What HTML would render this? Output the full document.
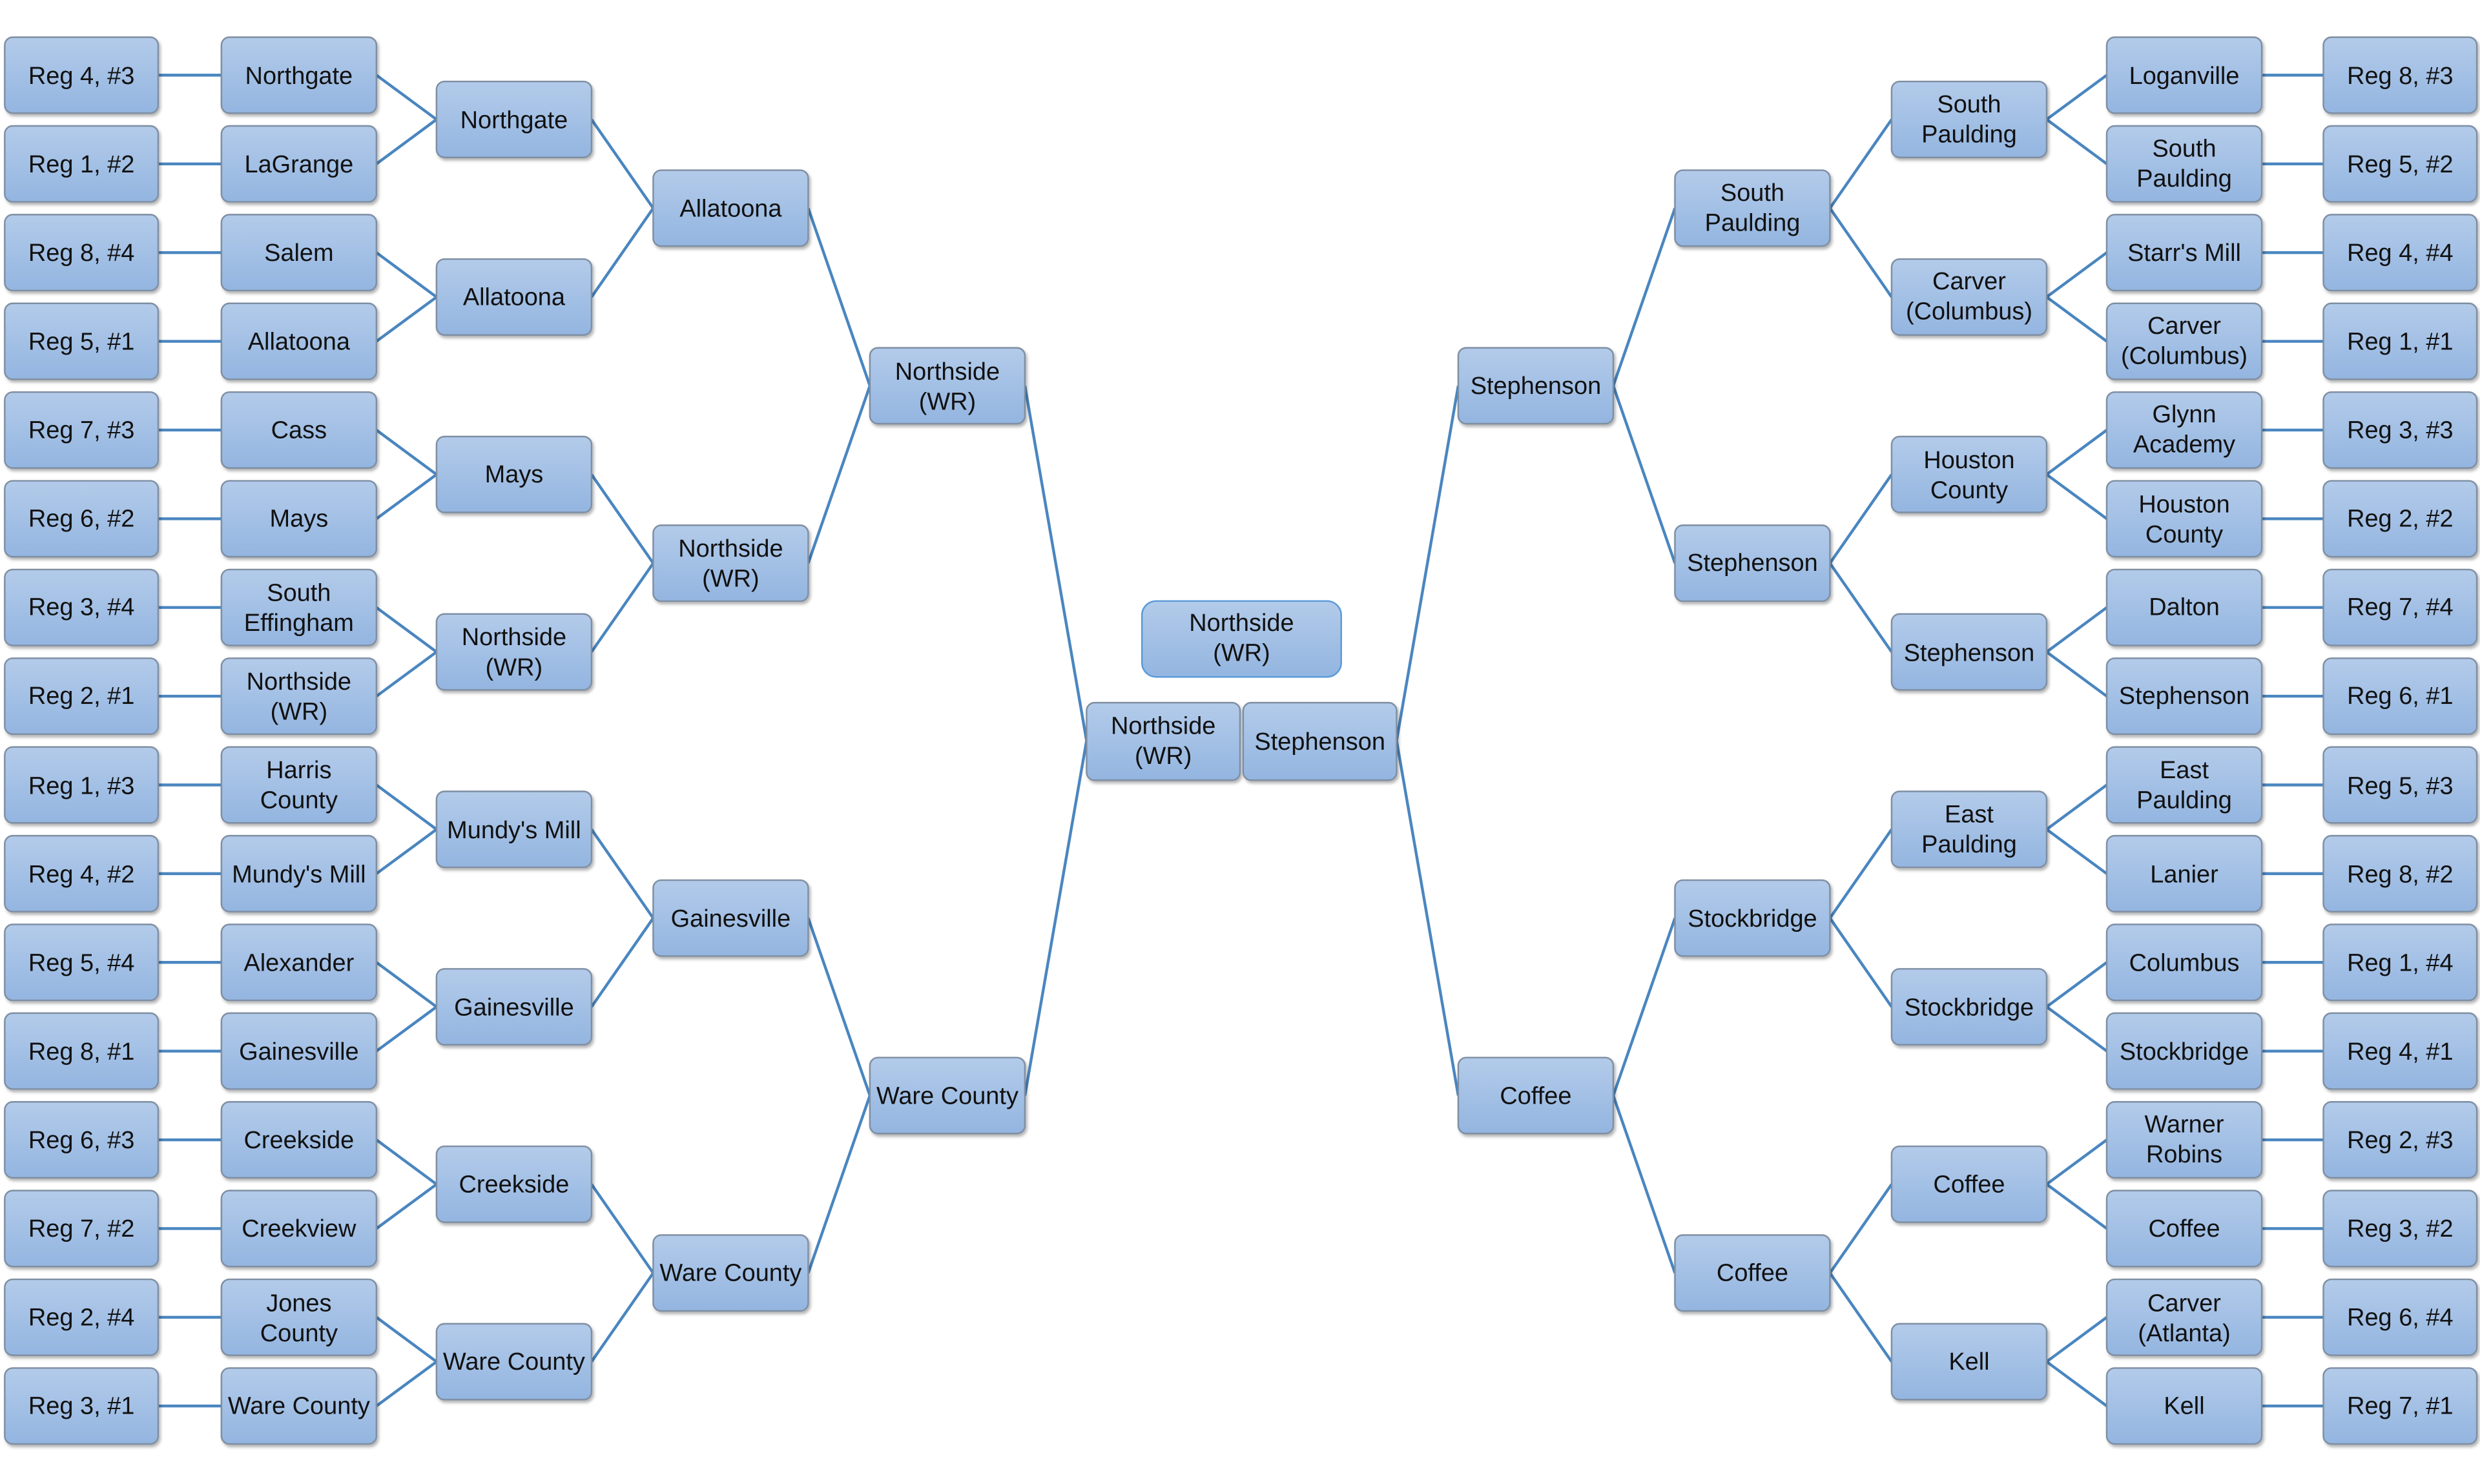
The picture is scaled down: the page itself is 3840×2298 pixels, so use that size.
<!DOCTYPE html>
<html><head><meta charset="utf-8"><style>
html,body{margin:0;padding:0;background:#fff;}
svg{display:block;}
text{font-family:"Liberation Sans",sans-serif;font-size:15.5px;fill:#111;text-anchor:middle;}
.b{fill:url(#g);stroke:#7f8fa3;stroke-width:1;}
.l{stroke:#4a86c0;stroke-width:1.8;fill:none;}
</style></head><body>
<svg width="3840" height="2298" viewBox="0 0 1568 938.3" xmlns="http://www.w3.org/2000/svg">
<defs>
<linearGradient id="g" x1="0" y1="0" x2="0" y2="1"><stop offset="0" stop-color="#b3cbea"/><stop offset="1" stop-color="#93b5e0"/></linearGradient>
<filter id="s" x="-10%" y="-10%" width="130%" height="130%"><feDropShadow dx="1" dy="1.5" stdDeviation="1" flood-color="#000" flood-opacity="0.3"/></filter>
</defs>
<g class="l">
<!-- left col0-col1 -->
<path d="M100 47.5H140M100 103.6H140M100 159.7H140M100 215.8H140M100 271.9H140M100 328H140M100 384.1H140M100 440.2H140M100 496.3H140M100 552.4H140M100 608.5H140M100 664.6H140M100 720.7H140M100 776.8H140M100 832.9H140M100 889H140"/>
<path d="M238 47.5L276 75.5L238 103.6M238 159.7L276 187.8L238 215.8M238 271.9L276 300L238 328M238 384.1L276 412.2L238 440.2M238 496.3L276 524.4L238 552.4M238 608.5L276 636.6L238 664.6M238 720.7L276 748.8L238 776.8M238 832.9L276 861L238 889"/>
<path d="M374 75.5L413 131.6L374 187.8M374 300L413 356.1L374 412.2M374 524.4L413 580.5L374 636.6M374 748.8L413 804.9L374 861"/>
<path d="M511 131.6L550 243.9L511 356.1M511 580.5L550 692.7L511 804.9"/>
<path d="M648 243.9L687 468.3L648 692.7"/>
<!-- right -->
<path d="M1469 47.5H1430M1469 103.6H1430M1469 159.7H1430M1469 215.8H1430M1469 271.9H1430M1469 328H1430M1469 384.1H1430M1469 440.2H1430M1469 496.3H1430M1469 552.4H1430M1469 608.5H1430M1469 664.6H1430M1469 720.7H1430M1469 776.8H1430M1469 832.9H1430M1469 889H1430"/>
<path d="M1332 47.5L1294 75.5L1332 103.6M1332 159.7L1294 187.8L1332 215.8M1332 271.9L1294 300L1332 328M1332 384.1L1294 412.2L1332 440.2M1332 496.3L1294 524.4L1332 552.4M1332 608.5L1294 636.6L1332 664.6M1332 720.7L1294 748.8L1332 776.8M1332 832.9L1294 861L1332 889"/>
<path d="M1196 75.5L1157 131.6L1196 187.8M1196 300L1157 356.1L1196 412.2M1196 524.4L1157 580.5L1196 636.6M1196 748.8L1157 804.9L1196 861"/>
<path d="M1059 131.6L1020 243.9L1059 356.1M1059 580.5L1020 692.7L1059 804.9"/>
<path d="M922 243.9L883 468.3L922 692.7"/>
</g>
<g filter="url(#s)">
<!-- left col0 -->
<rect class="b" x="3" y="23.5" width="97" height="48" rx="5"/>
<rect class="b" x="3" y="79.6" width="97" height="48" rx="5"/>
<rect class="b" x="3" y="135.7" width="97" height="48" rx="5"/>
<rect class="b" x="3" y="191.8" width="97" height="48" rx="5"/>
<rect class="b" x="3" y="247.9" width="97" height="48" rx="5"/>
<rect class="b" x="3" y="304" width="97" height="48" rx="5"/>
<rect class="b" x="3" y="360.1" width="97" height="48" rx="5"/>
<rect class="b" x="3" y="416.2" width="97" height="48" rx="5"/>
<rect class="b" x="3" y="472.3" width="97" height="48" rx="5"/>
<rect class="b" x="3" y="528.4" width="97" height="48" rx="5"/>
<rect class="b" x="3" y="584.5" width="97" height="48" rx="5"/>
<rect class="b" x="3" y="640.6" width="97" height="48" rx="5"/>
<rect class="b" x="3" y="696.7" width="97" height="48" rx="5"/>
<rect class="b" x="3" y="752.8" width="97" height="48" rx="5"/>
<rect class="b" x="3" y="808.9" width="97" height="48" rx="5"/>
<rect class="b" x="3" y="865" width="97" height="48" rx="5"/>
<!-- left col1 -->
<rect class="b" x="140" y="23.5" width="98" height="48" rx="5"/>
<rect class="b" x="140" y="79.6" width="98" height="48" rx="5"/>
<rect class="b" x="140" y="135.7" width="98" height="48" rx="5"/>
<rect class="b" x="140" y="191.8" width="98" height="48" rx="5"/>
<rect class="b" x="140" y="247.9" width="98" height="48" rx="5"/>
<rect class="b" x="140" y="304" width="98" height="48" rx="5"/>
<rect class="b" x="140" y="360.1" width="98" height="48" rx="5"/>
<rect class="b" x="140" y="416.2" width="98" height="48" rx="5"/>
<rect class="b" x="140" y="472.3" width="98" height="48" rx="5"/>
<rect class="b" x="140" y="528.4" width="98" height="48" rx="5"/>
<rect class="b" x="140" y="584.5" width="98" height="48" rx="5"/>
<rect class="b" x="140" y="640.6" width="98" height="48" rx="5"/>
<rect class="b" x="140" y="696.7" width="98" height="48" rx="5"/>
<rect class="b" x="140" y="752.8" width="98" height="48" rx="5"/>
<rect class="b" x="140" y="808.9" width="98" height="48" rx="5"/>
<rect class="b" x="140" y="865" width="98" height="48" rx="5"/>
<!-- left col2 -->
<rect class="b" x="276" y="51.5" width="98" height="48" rx="5"/>
<rect class="b" x="276" y="163.8" width="98" height="48" rx="5"/>
<rect class="b" x="276" y="276" width="98" height="48" rx="5"/>
<rect class="b" x="276" y="388.2" width="98" height="48" rx="5"/>
<rect class="b" x="276" y="500.4" width="98" height="48" rx="5"/>
<rect class="b" x="276" y="612.6" width="98" height="48" rx="5"/>
<rect class="b" x="276" y="724.8" width="98" height="48" rx="5"/>
<rect class="b" x="276" y="837" width="98" height="48" rx="5"/>
<!-- left col3 -->
<rect class="b" x="413" y="107.6" width="98" height="48" rx="5"/>
<rect class="b" x="413" y="332.1" width="98" height="48" rx="5"/>
<rect class="b" x="413" y="556.5" width="98" height="48" rx="5"/>
<rect class="b" x="413" y="780.9" width="98" height="48" rx="5"/>
<!-- left col4 -->
<rect class="b" x="550" y="219.9" width="98" height="48" rx="5"/>
<rect class="b" x="550" y="668.7" width="98" height="48" rx="5"/>
<!-- finals -->
<rect class="b" x="687" y="444.3" width="97" height="49" rx="5"/>
<rect class="b" x="786" y="444.3" width="97" height="49" rx="5"/>
<!-- right col4 -->
<rect class="b" x="922" y="219.9" width="98" height="48" rx="5"/>
<rect class="b" x="922" y="668.7" width="98" height="48" rx="5"/>
<!-- right col3 -->
<rect class="b" x="1059" y="107.6" width="98" height="48" rx="5"/>
<rect class="b" x="1059" y="332.1" width="98" height="48" rx="5"/>
<rect class="b" x="1059" y="556.5" width="98" height="48" rx="5"/>
<rect class="b" x="1059" y="780.9" width="98" height="48" rx="5"/>
<!-- right col2 -->
<rect class="b" x="1196" y="51.5" width="98" height="48" rx="5"/>
<rect class="b" x="1196" y="163.8" width="98" height="48" rx="5"/>
<rect class="b" x="1196" y="276" width="98" height="48" rx="5"/>
<rect class="b" x="1196" y="388.2" width="98" height="48" rx="5"/>
<rect class="b" x="1196" y="500.4" width="98" height="48" rx="5"/>
<rect class="b" x="1196" y="612.6" width="98" height="48" rx="5"/>
<rect class="b" x="1196" y="724.8" width="98" height="48" rx="5"/>
<rect class="b" x="1196" y="837" width="98" height="48" rx="5"/>
<!-- right col1 -->
<rect class="b" x="1332" y="23.5" width="98" height="48" rx="5"/>
<rect class="b" x="1332" y="79.6" width="98" height="48" rx="5"/>
<rect class="b" x="1332" y="135.7" width="98" height="48" rx="5"/>
<rect class="b" x="1332" y="191.8" width="98" height="48" rx="5"/>
<rect class="b" x="1332" y="247.9" width="98" height="48" rx="5"/>
<rect class="b" x="1332" y="304" width="98" height="48" rx="5"/>
<rect class="b" x="1332" y="360.1" width="98" height="48" rx="5"/>
<rect class="b" x="1332" y="416.2" width="98" height="48" rx="5"/>
<rect class="b" x="1332" y="472.3" width="98" height="48" rx="5"/>
<rect class="b" x="1332" y="528.4" width="98" height="48" rx="5"/>
<rect class="b" x="1332" y="584.5" width="98" height="48" rx="5"/>
<rect class="b" x="1332" y="640.6" width="98" height="48" rx="5"/>
<rect class="b" x="1332" y="696.7" width="98" height="48" rx="5"/>
<rect class="b" x="1332" y="752.8" width="98" height="48" rx="5"/>
<rect class="b" x="1332" y="808.9" width="98" height="48" rx="5"/>
<rect class="b" x="1332" y="865" width="98" height="48" rx="5"/>
<!-- right col0 -->
<rect class="b" x="1469" y="23.5" width="97" height="48" rx="5"/>
<rect class="b" x="1469" y="79.6" width="97" height="48" rx="5"/>
<rect class="b" x="1469" y="135.7" width="97" height="48" rx="5"/>
<rect class="b" x="1469" y="191.8" width="97" height="48" rx="5"/>
<rect class="b" x="1469" y="247.9" width="97" height="48" rx="5"/>
<rect class="b" x="1469" y="304" width="97" height="48" rx="5"/>
<rect class="b" x="1469" y="360.1" width="97" height="48" rx="5"/>
<rect class="b" x="1469" y="416.2" width="97" height="48" rx="5"/>
<rect class="b" x="1469" y="472.3" width="97" height="48" rx="5"/>
<rect class="b" x="1469" y="528.4" width="97" height="48" rx="5"/>
<rect class="b" x="1469" y="584.5" width="97" height="48" rx="5"/>
<rect class="b" x="1469" y="640.6" width="97" height="48" rx="5"/>
<rect class="b" x="1469" y="696.7" width="97" height="48" rx="5"/>
<rect class="b" x="1469" y="752.8" width="97" height="48" rx="5"/>
<rect class="b" x="1469" y="808.9" width="97" height="48" rx="5"/>
<rect class="b" x="1469" y="865" width="97" height="48" rx="5"/>
</g>
<!-- champion -->
<rect x="722" y="380" width="126" height="48" rx="9" fill="url(#g)" stroke="#5b9ad8" stroke-width="1"/>
<text x="785" y="399">Northside</text><text x="785" y="418">(WR)</text>

<!-- left col0 text -->
<text x="51.5" y="53">Reg 4, #3</text>
<text x="51.5" y="109">Reg 1, #2</text>
<text x="51.5" y="165">Reg 8, #4</text>
<text x="51.5" y="221">Reg 5, #1</text>
<text x="51.5" y="277">Reg 7, #3</text>
<text x="51.5" y="333">Reg 6, #2</text>
<text x="51.5" y="389">Reg 3, #4</text>
<text x="51.5" y="445">Reg 2, #1</text>
<text x="51.5" y="502">Reg 1, #3</text>
<text x="51.5" y="558">Reg 4, #2</text>
<text x="51.5" y="614">Reg 5, #4</text>
<text x="51.5" y="670">Reg 8, #1</text>
<text x="51.5" y="726">Reg 6, #3</text>
<text x="51.5" y="782">Reg 7, #2</text>
<text x="51.5" y="838">Reg 2, #4</text>
<text x="51.5" y="894">Reg 3, #1</text>
<!-- left col1 text -->
<text x="189" y="53">Northgate</text>
<text x="189" y="109">LaGrange</text>
<text x="189" y="165">Salem</text>
<text x="189" y="221">Allatoona</text>
<text x="189" y="277">Cass</text>
<text x="189" y="333">Mays</text>
<text x="189" y="380">South</text><text x="189" y="399">Effingham</text>
<text x="189" y="436">Northside</text><text x="189" y="455">(WR)</text>
<text x="189" y="492">Harris</text><text x="189" y="511">County</text>
<text x="189" y="558">Mundy's Mill</text>
<text x="189" y="614">Alexander</text>
<text x="189" y="670">Gainesville</text>
<text x="189" y="726">Creekside</text>
<text x="189" y="782">Creekview</text>
<text x="189" y="829">Jones</text><text x="189" y="848">County</text>
<text x="189" y="894">Ware County</text>
<!-- left col2 text -->
<text x="325" y="81">Northgate</text>
<text x="325" y="193">Allatoona</text>
<text x="325" y="305">Mays</text>
<text x="325" y="408">Northside</text><text x="325" y="427">(WR)</text>
<text x="325" y="530">Mundy's Mill</text>
<text x="325" y="642">Gainesville</text>
<text x="325" y="754">Creekside</text>
<text x="325" y="866">Ware County</text>
<!-- left col3 -->
<text x="462" y="137">Allatoona</text>
<text x="462" y="352">Northside</text><text x="462" y="371">(WR)</text>
<text x="462" y="586">Gainesville</text>
<text x="462" y="810">Ware County</text>
<!-- left col4 -->
<text x="599" y="240">Northside</text><text x="599" y="259">(WR)</text>
<text x="599" y="698">Ware County</text>
<!-- finals -->
<text x="735.5" y="464">Northside</text><text x="735.5" y="483">(WR)</text>
<text x="834.5" y="474">Stephenson</text>
<!-- right col4 -->
<text x="971" y="249">Stephenson</text>
<text x="971" y="698">Coffee</text>
<!-- right col3 -->
<text x="1108" y="127">South</text><text x="1108" y="146">Paulding</text>
<text x="1108" y="361">Stephenson</text>
<text x="1108" y="586">Stockbridge</text>
<text x="1108" y="810">Coffee</text>
<!-- right col2 -->
<text x="1245" y="71">South</text><text x="1245" y="90">Paulding</text>
<text x="1245" y="183">Carver</text><text x="1245" y="202">(Columbus)</text>
<text x="1245" y="296">Houston</text><text x="1245" y="315">County</text>
<text x="1245" y="418">Stephenson</text>
<text x="1245" y="520">East</text><text x="1245" y="539">Paulding</text>
<text x="1245" y="642">Stockbridge</text>
<text x="1245" y="754">Coffee</text>
<text x="1245" y="866">Kell</text>
<!-- right col1 -->
<text x="1381" y="53">Loganville</text>
<text x="1381" y="99">South</text><text x="1381" y="118">Paulding</text>
<text x="1381" y="165">Starr's Mill</text>
<text x="1381" y="211">Carver</text><text x="1381" y="230">(Columbus)</text>
<text x="1381" y="267">Glynn</text><text x="1381" y="286">Academy</text>
<text x="1381" y="324">Houston</text><text x="1381" y="343">County</text>
<text x="1381" y="389">Dalton</text>
<text x="1381" y="445">Stephenson</text>
<text x="1381" y="492">East</text><text x="1381" y="511">Paulding</text>
<text x="1381" y="558">Lanier</text>
<text x="1381" y="614">Columbus</text>
<text x="1381" y="670">Stockbridge</text>
<text x="1381" y="716">Warner</text><text x="1381" y="735">Robins</text>
<text x="1381" y="782">Coffee</text>
<text x="1381" y="829">Carver</text><text x="1381" y="848">(Atlanta)</text>
<text x="1381" y="894">Kell</text>
<!-- right col0 -->
<text x="1517.5" y="53">Reg 8, #3</text>
<text x="1517.5" y="109">Reg 5, #2</text>
<text x="1517.5" y="165">Reg 4, #4</text>
<text x="1517.5" y="221">Reg 1, #1</text>
<text x="1517.5" y="277">Reg 3, #3</text>
<text x="1517.5" y="333">Reg 2, #2</text>
<text x="1517.5" y="389">Reg 7, #4</text>
<text x="1517.5" y="445">Reg 6, #1</text>
<text x="1517.5" y="502">Reg 5, #3</text>
<text x="1517.5" y="558">Reg 8, #2</text>
<text x="1517.5" y="614">Reg 1, #4</text>
<text x="1517.5" y="670">Reg 4, #1</text>
<text x="1517.5" y="726">Reg 2, #3</text>
<text x="1517.5" y="782">Reg 3, #2</text>
<text x="1517.5" y="838">Reg 6, #4</text>
<text x="1517.5" y="894">Reg 7, #1</text>
</svg>
</body></html>
